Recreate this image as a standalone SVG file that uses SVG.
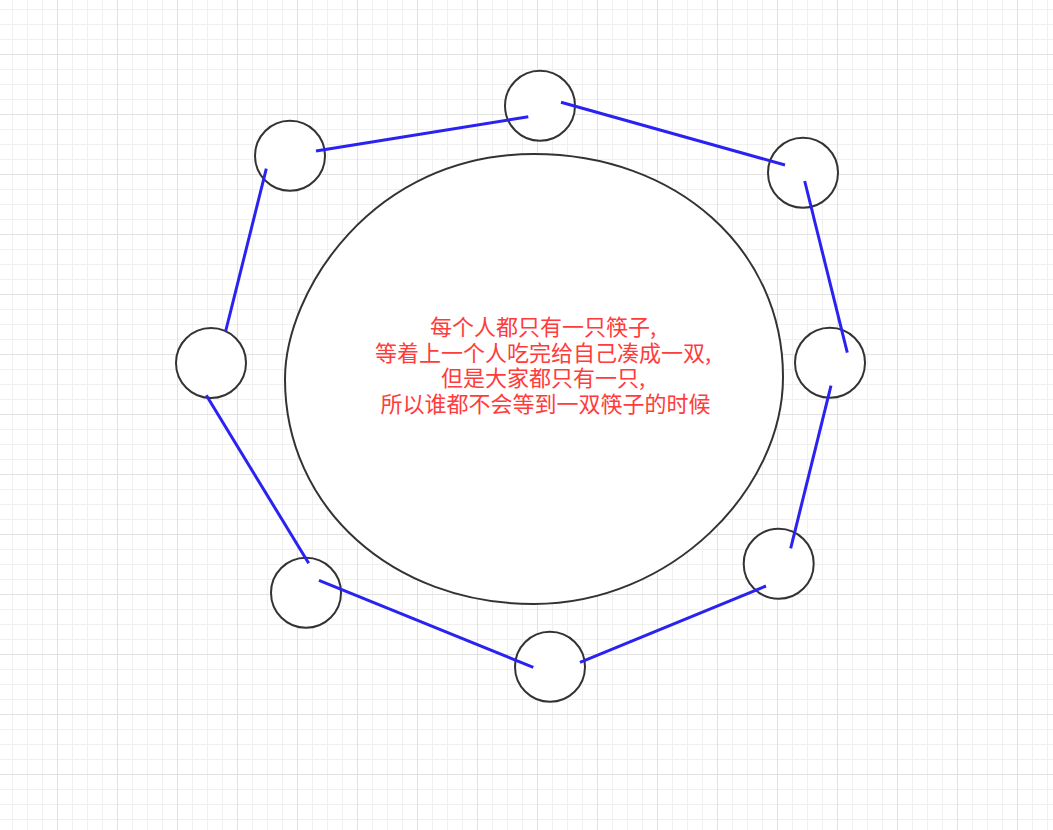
<svg xmlns="http://www.w3.org/2000/svg" width="1053" height="830" viewBox="0 0 1053 830">
  <defs>
    <pattern id="minor" patternUnits="userSpaceOnUse" x="12" y="9" width="15" height="15">
      <path d="M0 0.5 H15 M0.5 0 V15" fill="none" stroke="#f0f0f0" stroke-width="1"/>
    </pattern>
    <pattern id="major" patternUnits="userSpaceOnUse" x="57" y="54" width="60" height="60">
      <path d="M0 0.5 H60 M0.5 0 V60" fill="none" stroke="#e2e2e2" stroke-width="1"/>
    </pattern>
  </defs>
  <style>
    .person { fill: #ffffff; stroke: #333333; stroke-width: 2; }
    .table { fill: #ffffff; stroke: #333333; stroke-width: 2; }
    .stick { stroke: #2a22f0; stroke-width: 3; fill: none; }
    .label { font-family: "Noto Sans CJK SC", "Noto Sans", sans-serif; font-size: 22px; fill: #ff3b3b; text-anchor: middle; }
  </style>
  <rect x="0" y="0" width="1053" height="830" fill="#ffffff"/>
  <rect x="0" y="0" width="1053" height="830" fill="url(#minor)"/>
  <rect x="0" y="0" width="1053" height="830" fill="url(#major)"/>

  <g id="table">
    <path class="table" d="M285 379 C285 292 372 154 534 154 C676 154 783 249 783 377 C783 490 671 604 534 604 C392 604 285 507 285 379 Z"/>
    <text class="label">
      <tspan x="545.5" y="335">每个人都只有一只筷子,</tspan>
      <tspan x="545.5" y="360.7">等着上一个人吃完给自己凑成一双,</tspan>
      <tspan x="545.5" y="386.4">但是大家都只有一只,</tspan>
      <tspan x="545.5" y="412.1">所以谁都不会等到一双筷子的时候</tspan>
    </text>
  </g>

  <g id="person-top"><circle class="person" cx="540" cy="105.7" r="35"/></g>
  <g id="person-top-right"><circle class="person" cx="803" cy="172.7" r="35"/></g>
  <g id="person-right"><circle class="person" cx="830" cy="362.7" r="35"/></g>
  <g id="person-bottom-right"><circle class="person" cx="778.7" cy="563.7" r="35"/></g>
  <g id="person-bottom"><circle class="person" cx="550" cy="666.7" r="35"/></g>
  <g id="person-bottom-left"><circle class="person" cx="306" cy="592.7" r="35"/></g>
  <g id="person-left"><circle class="person" cx="211" cy="363" r="35"/></g>
  <g id="person-top-left"><circle class="person" cx="290" cy="155.7" r="35"/></g>

  <g id="connectors">
    <line class="stick" x1="316" y1="151" x2="528.3" y2="116.7"/>
    <line class="stick" x1="561" y1="102.3" x2="785" y2="165"/>
    <line class="stick" x1="804.7" y1="181" x2="847.3" y2="352.7"/>
    <line class="stick" x1="831" y1="385.7" x2="790.7" y2="548.3"/>
    <line class="stick" x1="766" y1="586" x2="580" y2="662.3"/>
    <line class="stick" x1="533.3" y1="667.3" x2="319" y2="580.3"/>
    <line class="stick" x1="308.7" y1="563.3" x2="206.3" y2="395.3"/>
    <line class="stick" x1="225.7" y1="331" x2="266.3" y2="168.7"/>
  </g>
</svg>
